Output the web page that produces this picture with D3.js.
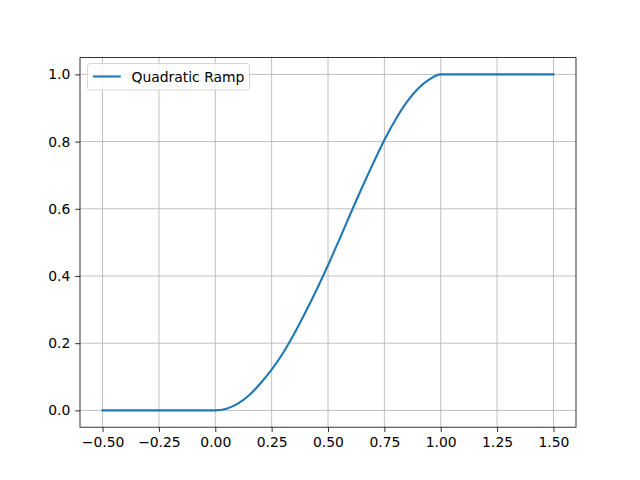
<!DOCTYPE html>
<html><head><meta charset="utf-8">
<script src="https://cdn.jsdelivr.net/npm/d3@7"></script>
<style>body{margin:0;background:#fff}svg{display:block}text{font-family:"DejaVu Sans",sans-serif}</style>
</head><body>
<script>
const seriesName = "Quadratic Ramp";
const xValues = [-0.5, -0.25, 0, 0.05, 0.1, 0.15, 0.2, 0.25, 0.3, 0.35, 0.4, 0.45, 0.5, 0.55, 0.6, 0.65, 0.7, 0.75, 0.8, 0.85, 0.9, 0.95, 1.0, 1.25, 1.5];
const yValues = [0, 0, 0, 0.005, 0.02, 0.045, 0.08, 0.121, 0.17, 0.228, 0.292, 0.36, 0.432, 0.508, 0.586, 0.662, 0.735, 0.805, 0.866, 0.918, 0.958, 0.985, 1.0, 1.0, 1.0];
const xTicks = [-0.5, -0.25, 0, 0.25, 0.5, 0.75, 1.0, 1.25, 1.5];
const yTicks = [0, 0.2, 0.4, 0.6, 0.8, 1.0];

const W = 640, H = 480;
const L = 80, R = 576, T = 57.6, B = 427.2;
const svg = d3.select("body").append("svg").attr("width", W).attr("height", H);
const x = d3.scaleLinear().domain([-0.6, 1.6]).range([L, R]);
const y = d3.scaleLinear().domain([-0.05, 1.05]).range([B, T]);
const fmtX = v => d3.format(".2f")(v).replace("-", "\u2212");
const fmtY = v => d3.format(".1f")(v);

// grid
const g = svg.append("g");
g.selectAll(".gx").data(xTicks).enter().append("line")
  .attr("x1", d => x(d)).attr("x2", d => x(d)).attr("y1", T).attr("y2", B)
  .attr("stroke", "#b0b0b0").attr("stroke-width", 0.8);
g.selectAll(".gy").data(yTicks).enter().append("line")
  .attr("y1", d => y(d)).attr("y2", d => y(d)).attr("x1", L).attr("x2", R)
  .attr("stroke", "#b0b0b0").attr("stroke-width", 0.8);

// line
const data = xValues.map((v, i) => [v, yValues[i]]);
svg.append("path").datum(data)
  .attr("d", d3.line().x(d => x(d[0])).y(d => y(d[1])).curve(d3.curveMonotoneX))
  .attr("fill", "none").attr("stroke", "#1f77b4").attr("stroke-width", 2.08)
  .attr("stroke-linecap", "square").attr("stroke-linejoin", "round");

// axes
const xAxis = d3.axisBottom(x).tickValues(xTicks).tickFormat(fmtX).tickSizeInner(4.86).tickSizeOuter(0).tickPadding(4.86);
const yAxis = d3.axisLeft(y).tickValues(yTicks).tickFormat(fmtY).tickSizeInner(4.86).tickSizeOuter(0).tickPadding(4.86);
const ax = svg.append("g").attr("transform", `translate(0,${B})`).call(xAxis);
const ay = svg.append("g").attr("transform", `translate(${L},0)`).call(yAxis);
[ax, ay].forEach(a => {
  a.select(".domain").remove();
  a.selectAll(".tick line").attr("stroke", "#000").attr("stroke-width", 0.8);
  a.selectAll(".tick text").attr("fill", "#000").style("font-size", "13.9px").style("font-family", "DejaVu Sans");
});

// frame
svg.append("rect").attr("x", L).attr("y", T).attr("width", R - L).attr("height", B - T)
  .attr("fill", "none").attr("stroke", "#000").attr("stroke-width", 0.8);

// legend
const lg = svg.append("g");
lg.append("rect").attr("x", 87.5).attr("y", 63.5).attr("width", 162).attr("height", 26.5)
  .attr("rx", 2.8).attr("fill", "#fff").attr("fill-opacity", 0.8).attr("stroke", "#cccccc").attr("stroke-width", 0.8);
lg.append("line").attr("x1", 93).attr("x2", 120.8).attr("y1", 76.5).attr("y2", 76.5)
  .attr("stroke", "#1f77b4").attr("stroke-width", 2.08);
lg.append("text").attr("x", 131.5).attr("y", 81.5).text(seriesName)
  .style("font-size", "13.9px").attr("fill", "#000");
</script>
</body></html>
